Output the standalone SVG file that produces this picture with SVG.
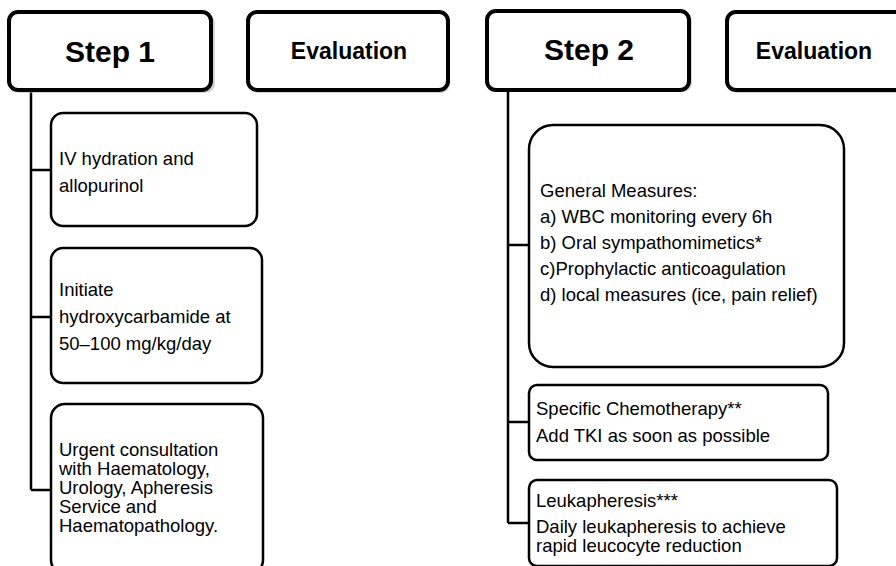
<svg xmlns="http://www.w3.org/2000/svg" width="896" height="566" viewBox="0 0 896 566">
<style>
.hdr{fill:#fff;stroke:#000;stroke-width:4}
.box{fill:#fff;stroke:#000;stroke-width:2.5}
.sh{fill:#bbb;stroke:none;opacity:0.6}
.t{font-family:"Liberation Sans",Arial,sans-serif;fill:#000;font-size:18.5px}
.ht{font-family:"Liberation Sans",Arial,sans-serif;fill:#000;font-weight:bold;text-anchor:middle}
.ln{fill:none;stroke:#000;stroke-width:2.5}
</style>
<rect width="896" height="566" fill="#fff"/>
<g id="connectors">
<path class="ln" d="M31 90 V490 M31 170 H51 M31 317 H51 M31 490 H51"/>
<path class="ln" d="M508 90 V523 M508 245 H529 M508 422 H529 M508 523 H529"/>
</g>
<g id="step1">
<rect class="sh" x="11" y="14" width="204" height="79" rx="9"/>
<rect class="hdr" x="9" y="12" width="202" height="78" rx="9"/>
<text class="ht" x="110" y="62" font-size="30">Step 1</text>
</g>
<g id="eval1">
<rect class="sh" x="250" y="14" width="200" height="79" rx="9"/>
<rect class="hdr" x="248" y="12" width="200" height="78" rx="9"/>
<text class="ht" x="349" y="59" font-size="23">Evaluation</text>
</g>
<g id="step2">
<rect class="sh" x="489" y="13" width="203" height="79" rx="9"/>
<rect class="hdr" x="487" y="11" width="202" height="79" rx="9"/>
<text class="ht" x="589" y="60" font-size="30">Step 2</text>
</g>
<g id="eval2">
<rect class="sh" x="729" y="14" width="200" height="79" rx="9"/>
<rect class="hdr" x="727" y="12" width="200" height="78" rx="9"/>
<text class="ht" x="814" y="59" font-size="23">Evaluation</text>
</g>
<g id="s1a">
<rect class="box" x="51" y="113" width="206" height="113" rx="12"/>
<text class="t" x="59" y="165">IV hydration and</text>
<text class="t" x="59" y="192">allopurinol</text>
</g>
<g id="s1b">
<rect class="box" x="51" y="248" width="211" height="135" rx="12"/>
<text class="t" x="59" y="296">Initiate</text>
<text class="t" x="59" y="323">hydroxycarbamide at</text>
<text class="t" x="59" y="350">50–100 mg/kg/day</text>
</g>
<g id="s1c">
<rect class="box" x="51" y="404" width="212" height="170" rx="14"/>
<text class="t" x="59" y="456">Urgent consultation</text>
<text class="t" x="59" y="475">with Haematology,</text>
<text class="t" x="59" y="494">Urology, Apheresis</text>
<text class="t" x="59" y="513">Service and</text>
<text class="t" x="59" y="532">Haematopathology.</text>
</g>
<g id="s2a">
<rect class="box" x="529" y="125" width="315" height="242" rx="24"/>
<text class="t" x="540" y="197">General Measures:</text>
<text class="t" x="540" y="223">a) WBC monitoring every 6h</text>
<text class="t" x="540" y="249">b) Oral sympathomimetics*</text>
<text class="t" x="540" y="275">c)Prophylactic anticoagulation</text>
<text class="t" x="540" y="301">d) local measures (ice, pain relief)</text>
</g>
<g id="s2b">
<rect class="box" x="529" y="385" width="299" height="75" rx="8"/>
<text class="t" x="536" y="415">Specific Chemotherapy**</text>
<text class="t" x="536" y="442">Add TKI as soon as possible</text>
</g>
<g id="s2c">
<rect class="box" x="529" y="480" width="308" height="86" rx="8"/>
<text class="t" x="536" y="507">Leukapheresis***</text>
<text class="t" x="536" y="533">Daily leukapheresis to achieve</text>
<text class="t" x="536" y="552">rapid leucocyte reduction</text>
</g>
</svg>
